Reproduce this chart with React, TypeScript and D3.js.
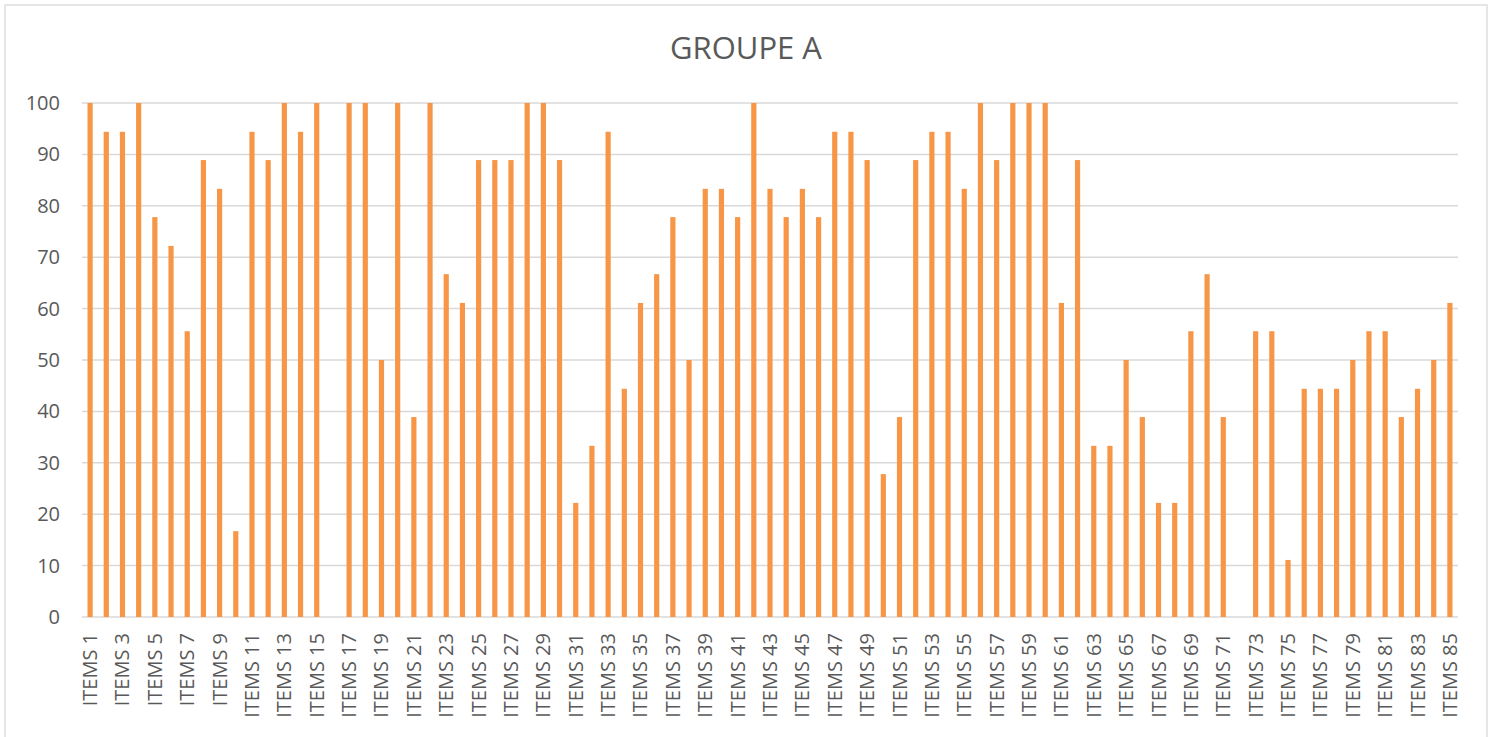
import { useEffect, useRef } from 'react'
import * as d3 from 'd3'

const TITLE = 'GROUPE A'
const ITEMS = d3.range(1, 86).map((i) => `ITEMS ${i}`)
const VALUES = [
  100, 94.4, 94.4, 100, 77.8, 72.2, 55.6, 88.9, 83.3, 16.7,
  94.4, 88.9, 100, 94.4, 100, 0, 100, 100, 50, 100,
  38.9, 100, 66.7, 61.1, 88.9, 88.9, 88.9, 100, 100, 88.9,
  22.2, 33.3, 94.4, 44.4, 61.1, 66.7, 77.8, 50, 83.3, 83.3,
  77.8, 100, 83.3, 77.8, 83.3, 77.8, 94.4, 94.4, 88.9, 27.8,
  38.9, 88.9, 94.4, 94.4, 83.3, 100, 88.9, 100, 100, 100,
  61.1, 88.9, 33.3, 33.3, 50, 38.9, 22.2, 22.2, 55.6, 66.7,
  38.9, 0, 55.6, 55.6, 11.1, 44.4, 44.4, 44.4, 50, 55.6,
  55.6, 38.9, 44.4, 50, 61.1,
]
const Y_TICKS = [0, 10, 20, 30, 40, 50, 60, 70, 80, 90, 100]

const BAR = '#F79646'
const GRID = '#D9D9D9'
const TEXT = '#595959'
const FONT = '"Open Sans", "Noto Sans", sans-serif'

export default function App() {
  const ref = useRef<SVGSVGElement>(null)

  useEffect(() => {
    document.body.style.margin = '0'
    if (!ref.current) return
    const width = 1496
    const height = 737
    const margin = { top: 103, right: 38, bottom: 120, left: 82 }

    const svg = d3.select(ref.current)
    svg.selectAll('*').remove()
    svg.attr('width', width).attr('height', height)

    // chart frame
    svg.append('rect')
      .attr('x', 5).attr('y', 5)
      .attr('width', 1482).attr('height', 760)
      .attr('fill', '#fff')
      .attr('stroke', GRID)
      .attr('stroke-width', 1.3)

    svg.append('text')
      .attr('x', 746).attr('y', 59)
      .attr('text-anchor', 'middle')
      .attr('fill', TEXT)
      .attr('font-family', FONT)
      .attr('font-size', 31)
      .text(TITLE)

    const x = d3.scaleBand()
      .domain(ITEMS)
      .range([margin.left, width - margin.right])
      .paddingInner(0.68)
      .paddingOuter(0.34)

    const y = d3.scaleLinear()
      .domain([0, 100])
      .range([height - margin.bottom, margin.top])

    const g = svg.append('g')

    g.selectAll('line.grid')
      .data(Y_TICKS)
      .join('line')
      .attr('x1', margin.left)
      .attr('x2', width - margin.right)
      .attr('y1', (d) => y(d))
      .attr('y2', (d) => y(d))
      .attr('stroke', GRID)
      .attr('stroke-width', 1.5)

    g.selectAll('text.ytick')
      .data(Y_TICKS)
      .join('text')
      .attr('x', 60)
      .attr('y', (d) => y(d))
      .attr('dy', '0.35em')
      .attr('text-anchor', 'end')
      .attr('fill', TEXT)
      .attr('font-family', FONT)
      .attr('font-size', 20)
      .text((d) => d)

    g.selectAll('rect.bar')
      .data(VALUES)
      .join('rect')
      .attr('x', (d, i) => x(ITEMS[i])!)
      .attr('y', (d) => y(d))
      .attr('width', x.bandwidth())
      .attr('height', (d) => y(0) - y(d))
      .attr('fill', BAR)

    // only every other category gets a label
    g.selectAll('text.xtick')
      .data(ITEMS.filter((_, i) => i % 2 === 0))
      .join('text')
      .attr('transform', (d) => `translate(${x(d)! + x.bandwidth() / 2},633) rotate(-90)`)
      .attr('dy', '0.35em')
      .attr('text-anchor', 'end')
      .attr('fill', TEXT)
      .attr('font-family', FONT)
      .attr('font-size', 20)
      .text((d) => d)
  }, [])

  return <svg ref={ref} style={{ display: 'block' }} />
}
